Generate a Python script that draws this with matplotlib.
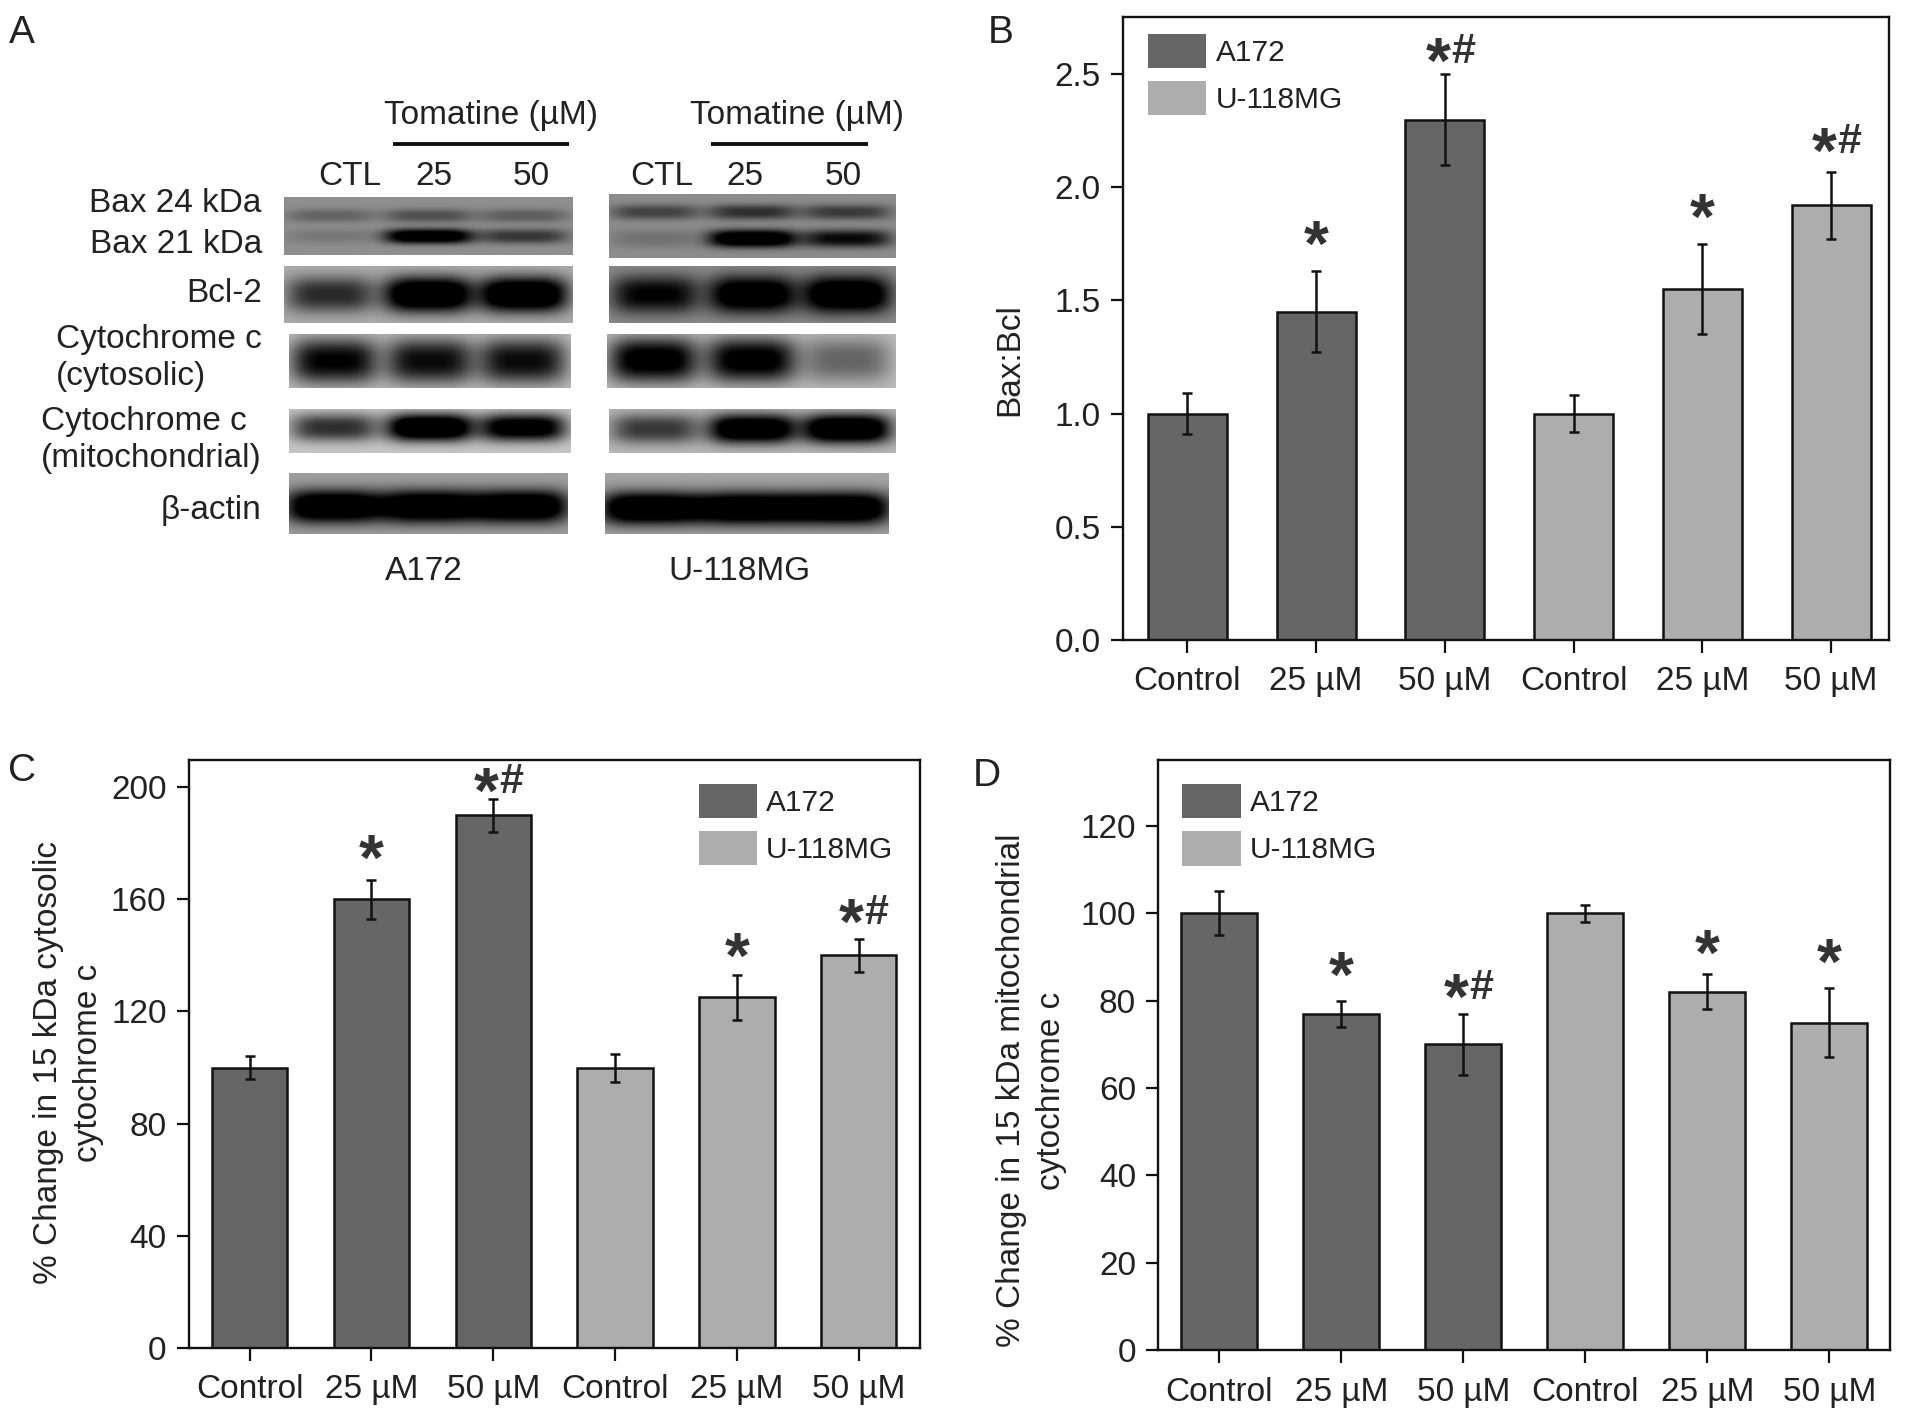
import numpy as np
import matplotlib
matplotlib.use("Agg")
import matplotlib.pyplot as plt
from matplotlib.patches import Patch

plt.rcParams['font.family'] = ['Liberation Sans', 'DejaVu Sans']
plt.rcParams['text.color'] = '#222222'
plt.rcParams['axes.labelcolor'] = '#222222'
plt.rcParams['xtick.color'] = '#111111'
plt.rcParams['ytick.color'] = '#111111'
plt.rcParams['xtick.labelcolor'] = '#222222'
plt.rcParams['ytick.labelcolor'] = '#222222'

categories = ['Control', '25 µM', '50 µM', 'Control', '25 µM', '50 µM']
series_names = ['A172', 'U-118MG']

bax_values = [1.0, 1.45, 2.3, 1.0, 1.55, 1.92]
bax_errors = [0.09, 0.18, 0.2, 0.08, 0.2, 0.15]
bax_marks = ['', '*', '*#', '', '*', '*#']
bax_mark_y = [0, 1.79, 2.6, 0, 1.91, 2.2]

cyto_values = [100, 160, 190, 100, 125, 140]
cyto_errors = [4, 7, 6, 5, 8, 6]
cyto_marks = ['', '*', '*#', '', '*', '*#']
cyto_mark_y = [0, 178, 202, 0, 143, 155]

mito_values = [100, 77, 70, 100, 82, 75]
mito_errors = [5, 3, 7, 2, 4, 8]
mito_marks = ['', '*', '*#', '', '*', '*']
mito_mark_y = [0, 88, 83, 0, 93, 91]

# blot band strength per lane (CTL, 25, 50)
a172_bax_upper = [0.22, 0.32, 0.25]
a172_bax_lower = [0.12, 0.95, 0.45]
u118_bax_upper = [0.38, 0.48, 0.42]
u118_bax_lower = [0.14, 1.0, 0.68]
a172_bcl2 = [0.55, 1.0, 1.0]
u118_bcl2 = [0.72, 0.92, 0.98]
a172_cyto = [0.72, 0.68, 0.68]
u118_cyto = [0.8, 0.78, 0.34]
a172_mito = [0.55, 1.0, 0.85]
u118_mito = [0.5, 0.95, 1.0]
a172_actin = [1.0, 1.0, 1.0]
u118_actin = [1.0, 1.0, 1.0]

DARK = '#666666'
LIGHT = '#adadad'
bar_colors = [DARK] * 3 + [LIGHT] * 3

W, H = 1569.0, 1162.0  # layout below is measured in this space
fig = plt.figure(figsize=(19.11, 14.16), dpi=100, facecolor='white')


def add_axes_px(left, top, right, bottom):
    return fig.add_axes([left / W, 1 - bottom / H, (right - left) / W, (bottom - top) / H])


def bar_panel(box, values, errors, marks, mark_y, ylim, yticks, yfmt, width, xlim, legend_xy, ylabel, label_xy):
    ax = add_axes_px(*box)
    x = np.arange(len(values))
    ax.bar(x, values, width=width, color=bar_colors, edgecolor='#111111', linewidth=1.8, zorder=2)
    ax.errorbar(x, values, yerr=errors, fmt='none', ecolor='#111111', elinewidth=1.8,
                capsize=3.6, capthick=1.8, zorder=3)
    ax.set_xlim(*xlim)
    ax.set_ylim(*ylim)
    ax.set_xticks(x, categories)
    ax.set_yticks(yticks, [yfmt % t for t in yticks])
    ax.tick_params(axis='both', length=9, width=1.6, labelsize=24)
    ax.tick_params(axis='x', pad=10)
    ax.tick_params(axis='y', pad=7)
    for s in ax.spines.values():
        s.set_linewidth(1.7)
        s.set_color('#111111')
    ax.set_ylabel(ylabel, fontsize=24, linespacing=1.38)
    ax.yaxis.set_label_coords(*label_xy)
    for xi, m, y in zip(x, marks, mark_y):
        if not m:
            continue
        if m == '*':
            ax.annotate('*', (xi, y), xytext=(0, -10), textcoords='offset points', ha='center',
                        va='center', fontsize=46, fontweight='bold', color='#333333')
        else:
            ax.annotate('*', (xi, y), xytext=(-5, -10), textcoords='offset points', ha='center',
                        va='center', fontsize=46, fontweight='bold', color='#333333')
            ax.annotate('#', (xi, y), xytext=(13, 0), textcoords='offset points', ha='center',
                        va='center', fontsize=31, fontweight='bold', color='#333333')
    handles = [Patch(facecolor=DARK, edgecolor='none'), Patch(facecolor=LIGHT, edgecolor='none')]
    ax.legend(handles, series_names, loc='upper left', bbox_to_anchor=legend_xy, frameon=False,
              fontsize=21.5, handlelength=1.95, handleheight=1.4, handletextpad=0.3,
              labelspacing=0.42, borderpad=0, borderaxespad=0)
    return ax


bar_panel((922, 14, 1551, 525), bax_values, bax_errors, bax_marks, bax_mark_y, (0, 2.753),
          [0, 0.5, 1, 1.5, 2, 2.5], '%.1f', 0.615, (-0.5, 5.45), (0.033, 0.973), 'Bax:Bcl', (-0.127, 0.45))
bar_panel((155, 624, 755, 1106), cyto_values, cyto_errors, cyto_marks, cyto_mark_y, (0, 209.6),
          [0, 40, 80, 120, 160, 200], '%d', 0.62, (-0.5, 5.5), (0.698, 0.96),
          '% Change in 15 kDa cytosolic\ncytochrome c', (-0.116, 0.485))
bar_panel((951, 624, 1552, 1108), mito_values, mito_errors, mito_marks, mito_mark_y, (0, 135),
          [0, 20, 40, 60, 80, 100, 120], '%d', 0.62, (-0.5, 5.5), (0.033, 0.96),
          '% Change in 15 kDa mitochondrial\ncytochrome c', (-0.125, 0.44))


# panel A sits on an overlay in the layout space
ov = fig.add_axes([0, 0, 1, 1], facecolor='none')
ov.set_xlim(0, W)
ov.set_ylim(H, 0)
ov.axis('off')


def blot(extent, bg, bands, lane_w=0.155):
    left, right, top, bottom = extent
    xx, yy = np.meshgrid(np.linspace(0, 1, 240), np.linspace(0, 1, 60))
    dark = np.zeros_like(xx)
    for strengths, yc, hh in bands:
        for c, s in zip((0.16, 0.5, 0.83), strengths):
            dark += s * np.exp(-np.abs((xx - c) / lane_w) ** 4) * np.exp(-np.abs((yy - yc) / hh) ** 2.5)
    img = bg * (1 - np.clip(1.4 * dark, 0, 1))
    ov.imshow(img, extent=(left, right, bottom, top), cmap='gray', vmin=0, vmax=1,
              interpolation='bilinear', aspect='auto', zorder=1)


blot((233, 470, 162, 209), 0.56, [(a172_bax_upper, 0.32, 0.12), (a172_bax_lower, 0.68, 0.13)])
blot((500, 735, 160, 212), 0.55, [(u118_bax_upper, 0.28, 0.12), (u118_bax_lower, 0.7, 0.14)])
blot((233, 470, 219, 265), 0.68, [(a172_bcl2, 0.5, 0.32)])
blot((500, 735, 219, 265), 0.55, [(u118_bcl2, 0.5, 0.34)])
blot((237, 468, 274, 318), 0.75, [(a172_cyto, 0.5, 0.42)])
blot((498, 735, 274, 318), 0.75, [(u118_cyto, 0.48, 0.42)])
blot((237, 468, 336, 372), 0.78, [(a172_mito, 0.42, 0.32)])
blot((500, 735, 336, 372), 0.72, [(u118_mito, 0.45, 0.34)])
blot((237, 466, 388, 438), 0.62, [(a172_actin, 0.55, 0.28)], lane_w=0.175)
blot((497, 730, 388, 438), 0.64, [(u118_actin, 0.58, 0.28)], lane_w=0.18)
ov.set_xlim(0, W)
ov.set_ylim(H, 0)

TXT = 24
for x0, x1 in ((323, 467), (584, 713)):
    ov.plot([x0, x1], [118, 118], color='#111111', lw=2.8, solid_capstyle='butt')
for x, s in ((403, 'Tomatine (µM)'), (654, 'Tomatine (µM)')):
    ov.text(x, 95, s, ha='center', va='center', fontsize=TXT)
for x, s in ((287, 'CTL'), (356, '25'), (436, '50'), (543, 'CTL'), (612, '25'), (692, '50')):
    ov.text(x, 145, s, ha='center', va='center', fontsize=TXT)
for y, s in ((167, 'Bax 24 kDa'), (201, 'Bax 21 kDa'), (241, 'Bcl-2'), (279, 'Cytochrome c'),
             (419, 'β-actin')):
    ov.text(215, y, s, ha='right', va='center', fontsize=TXT)
ov.text(46, 309, '(cytosolic)', ha='left', va='center', fontsize=TXT)
ov.text(34, 346, 'Cytochrome c', ha='left', va='center', fontsize=TXT)
ov.text(215, 376, '(mitochondrial)', ha='right', va='center', fontsize=TXT)
ov.text(348, 469, 'A172', ha='center', va='center', fontsize=TXT)
ov.text(607, 469, 'U-118MG', ha='center', va='center', fontsize=TXT)

for x, y, s in ((18, 27, 'A'), (822, 27, 'B'), (18, 633, 'C'), (810, 637, 'D')):
    ov.text(x, y, s, ha='center', va='center', fontsize=28)

fig.savefig('out.png', dpi=100)
